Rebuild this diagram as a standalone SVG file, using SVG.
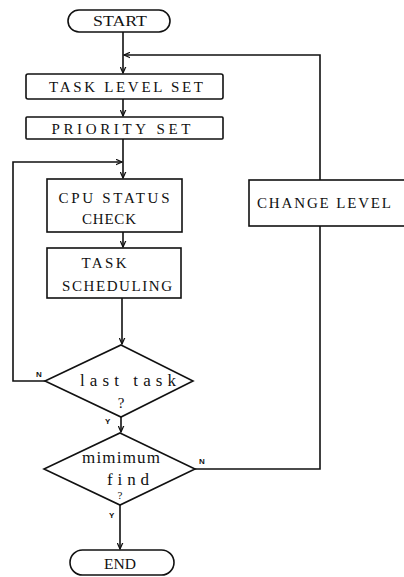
<svg xmlns="http://www.w3.org/2000/svg" width="404" height="577" viewBox="0 0 404 577">
<style>
.b{fill:#fff;stroke:#111;stroke-width:1.6}
.c{fill:none;stroke:#111;stroke-width:1.6}
.t{font-family:"Liberation Serif",serif;font-size:15px;fill:#111}
.s{font-size:17px}
.l{font-family:"Liberation Sans",sans-serif;font-size:8px;font-weight:bold;fill:#111}
</style>
<defs>
<marker id="a" viewBox="0 0 10 10" refX="9" refY="5" markerWidth="7" markerHeight="7" orient="auto" markerUnits="userSpaceOnUse">
<path d="M0,1 L9,5 L0,9" fill="none" stroke="#111" stroke-width="1.8"/>
</marker>
</defs>
<rect width="404" height="577" fill="#fff"/>
<g id="connectors">
<path class="c" d="M123,32 V73" marker-end="url(#a)"/>
<path class="c" d="M320,180 V55 H124" marker-end="url(#a)"/>
<path class="c" d="M123,99 V116" marker-end="url(#a)"/>
<path class="c" d="M123,139 V178" marker-end="url(#a)"/>
<path class="c" d="M45,381 H13 V162 H122" marker-end="url(#a)"/>
<path class="c" d="M123,232 V247" marker-end="url(#a)"/>
<path class="c" d="M122,298 V344" marker-end="url(#a)"/>
<path class="c" d="M121,417 V432" marker-end="url(#a)"/>
<path class="c" d="M195,469 H320 V226"/>
<path class="c" d="M120,505 V549" marker-end="url(#a)"/>
</g>
<g id="start">
<rect class="b" x="68" y="10" width="102" height="22" rx="11"/>
<text class="t" x="120" y="26" text-anchor="middle" textLength="54" lengthAdjust="spacingAndGlyphs">START</text>
</g>
<g id="task-level-set">
<rect class="b" x="26" y="74" width="197" height="25" rx="2"/>
<text class="t" x="126" y="92" text-anchor="middle" textLength="154" lengthAdjust="spacing">TASK LEVEL SET</text>
</g>
<g id="priority-set">
<rect class="b" x="26" y="117" width="197" height="22" rx="1"/>
<text class="t" x="121" y="134" text-anchor="middle" textLength="139" lengthAdjust="spacing">PRIORITY SET</text>
</g>
<g id="cpu-status-check">
<rect class="b" x="47" y="179" width="135" height="53"/>
<text class="t" x="114" y="203" text-anchor="middle" textLength="111" lengthAdjust="spacing">CPU STATUS</text>
<text class="t" x="109" y="224" text-anchor="middle" textLength="54" lengthAdjust="spacing">CHECK</text>
</g>
<g id="task-scheduling">
<rect class="b" x="47" y="248" width="134" height="50"/>
<text class="t" x="104" y="268" text-anchor="middle" textLength="45" lengthAdjust="spacing">TASK</text>
<text class="t" x="117" y="291" text-anchor="middle" textLength="110" lengthAdjust="spacing">SCHEDULING</text>
</g>
<g id="last-task">
<polygon class="b" points="121,345 193,381 121,417 45,381"/>
<text class="t s" x="128" y="386" text-anchor="middle" textLength="96" lengthAdjust="spacing">last task</text>
<text class="t" x="121" y="408" text-anchor="middle">?</text>
<text class="l" x="36" y="377">N</text>
<text class="l" x="105" y="424">Y</text>
</g>
<g id="minimum-find">
<polygon class="b" points="120,433 195,469 120,505 44,469"/>
<text class="t s" x="121" y="463" text-anchor="middle" textLength="78" lengthAdjust="spacing">mimimum</text>
<text class="t s" x="128" y="485" text-anchor="middle" textLength="42" lengthAdjust="spacing">find</text>
<text class="t" x="120" y="499" text-anchor="middle" style="font-size:11px">?</text>
<text class="l" x="199" y="464">N</text>
<text class="l" x="109" y="518">Y</text>
</g>
<g id="change-level">
<rect class="b" x="249" y="180" width="165" height="46"/>
<text class="t" x="257" y="208" textLength="134" lengthAdjust="spacing">CHANGE LEVEL</text>
</g>
<g id="end">
<rect class="b" x="70" y="550" width="104" height="25" rx="12.5"/>
<text class="t" x="120" y="569" text-anchor="middle" textLength="32" lengthAdjust="spacingAndGlyphs">END</text>
</g>
</svg>
